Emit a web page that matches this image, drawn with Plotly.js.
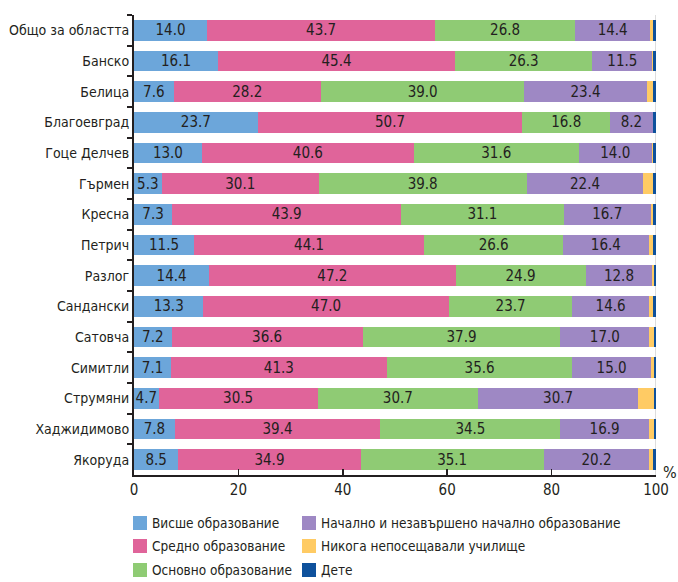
<!DOCTYPE html>
<html>
<head>
<meta charset="utf-8">
<script src="https://cdn.plot.ly/plotly-3.0.1.min.js"></script>
<style>html,body{margin:0;padding:0;background:#fff;}#chart{width:678px;height:582px;}</style>
</head>
<body>
<div id="chart"></div>
<script>
var categories = ["Общо за областта","Банско","Белица","Благоевград","Гоце Делчев","Гърмен","Кресна","Петрич","Разлог","Сандански","Сатовча","Симитли","Струмяни","Хаджидимово","Якоруда"];
var higher    = [14.0,16.1,7.6,23.7,13.0,5.3,7.3,11.5,14.4,13.3,7.2,7.1,4.7,7.8,8.5];
var secondary = [43.7,45.4,28.2,50.7,40.6,30.1,43.9,44.1,47.2,47.0,36.6,41.3,30.5,39.4,34.9];
var basic     = [26.8,26.3,39.0,16.8,31.6,39.8,31.1,26.6,24.9,23.7,37.9,35.6,30.7,34.5,35.1];
var primary   = [14.4,11.5,23.4,8.2,14.0,22.4,16.7,16.4,12.8,14.6,17.0,15.0,30.7,16.9,20.2];
var never     = [0.5,0.2,1.3,0.1,0.3,1.9,0.5,0.9,0.3,0.9,0.9,0.6,3.0,1.0,0.8];
var child     = [0.6,0.5,0.5,0.5,0.5,0.5,0.5,0.5,0.4,0.5,0.4,0.4,0.4,0.4,0.5];
var seriesNames = ["Висше образование","Средно образование","Основно образование","Начално и незавършено начално образование","Никога непосещавали училище","Дете"];
var xTicks = [0,20,40,60,80,100];

var colors = ["#6CA6DA","#E0649A","#8FCB74","#9E88C4","#FFCB64","#0E519C"];
var values = [higher,secondary,basic,primary,never,child];
var font = "'Liberation Sans Narrow','DejaVu Sans Condensed','Roboto Condensed',sans-serif";
var txt = "#231F20";

// plot area geometry (pixels) used to place the hand-made legend
var W = 678, H = 582, mL = 134, mR = 22, mT = 15, mB = 107;
var pw = W - mL - mR, ph = H - mT - mB;
function px(x){ return (x - mL) / pw; }
function py(y){ return (H - mB - y) / ph; }

var data = values.map(function(v,i){
  var labeled = i < 4;
  return {
    type: "bar",
    orientation: "h",
    name: seriesNames[i],
    y: categories,
    x: v,
    marker: {color: colors[i], line: {width: 0}},
    text: labeled ? v.map(function(a){return a.toFixed(1);}) : null,
    textposition: labeled ? "inside" : "none",
    insidetextanchor: "middle",
    constraintext: "none",
    textangle: 0,
    textfont: {family: font, size: 15, color: txt},
    hoverinfo: "x+y+name",
    showlegend: false
  };
});

// legend: two columns, three rows
var legCols = [133, 302], legRows = [523, 546, 570], sw = 14;
var legendShapes = [], legendAnns = [];
seriesNames.forEach(function(name, i){
  var col = Math.floor(i / 3), row = i % 3;
  var x0 = legCols[col], yc = legRows[row];
  legendShapes.push({
    type: "rect", xref: "paper", yref: "paper",
    x0: px(x0), x1: px(x0 + sw), y0: py(yc + sw/2), y1: py(yc - sw/2),
    fillcolor: colors[i], line: {width: 0}
  });
  legendAnns.push({
    text: name, xref: "paper", yref: "paper", x: px(x0 + sw + 3), y: py(yc),
    xanchor: "left", yanchor: "middle", showarrow: false,
    font: {family: font, size: 13.5, color: txt}
  });
});

var layout = {
  width: W, height: H,
  margin: {l: mL, r: mR, t: mT, b: mB},
  barmode: "stack",
  bargap: 0.32,
  paper_bgcolor: "#fff",
  plot_bgcolor: "#fff",
  font: {family: font, size: 14, color: txt},
  showlegend: false,
  xaxis: {
    range: [0, 100],
    tickvals: xTicks,
    ticktext: xTicks.map(String),
    ticks: "inside", ticklen: 6, tickwidth: 1.5, tickcolor: txt,
    showline: true, linecolor: txt, linewidth: 2,
    showgrid: false, zeroline: false,
    tickfont: {family: font, size: 15, color: txt},
    fixedrange: true
  },
  yaxis: {
    autorange: "reversed",
    type: "category",
    tickson: "boundaries",
    ticks: "outside", ticklen: 5, tickwidth: 2, tickcolor: txt,
    showline: true, linecolor: txt, linewidth: 2,
    showgrid: false, zeroline: false,
    tickfont: {family: font, size: 14, color: txt},
    fixedrange: true
  },
  shapes: [{
    type: "line", xref: "x", yref: "paper", x0: 100, x1: 100, y0: 0, y1: 1,
    line: {color: "#BBBBBB", width: 1}, layer: "below"
  }].concat(legendShapes),
  annotations: [{
    text: "%", xref: "paper", yref: "paper", x: 1.01, y: 0.006, xanchor: "left", yanchor: "middle",
    showarrow: false, font: {family: font, size: 16, color: txt}
  }].concat(legendAnns)
};

Plotly.newPlot("chart", data, layout, {displayModeBar: false, staticPlot: true});
</script>
</body>
</html>
